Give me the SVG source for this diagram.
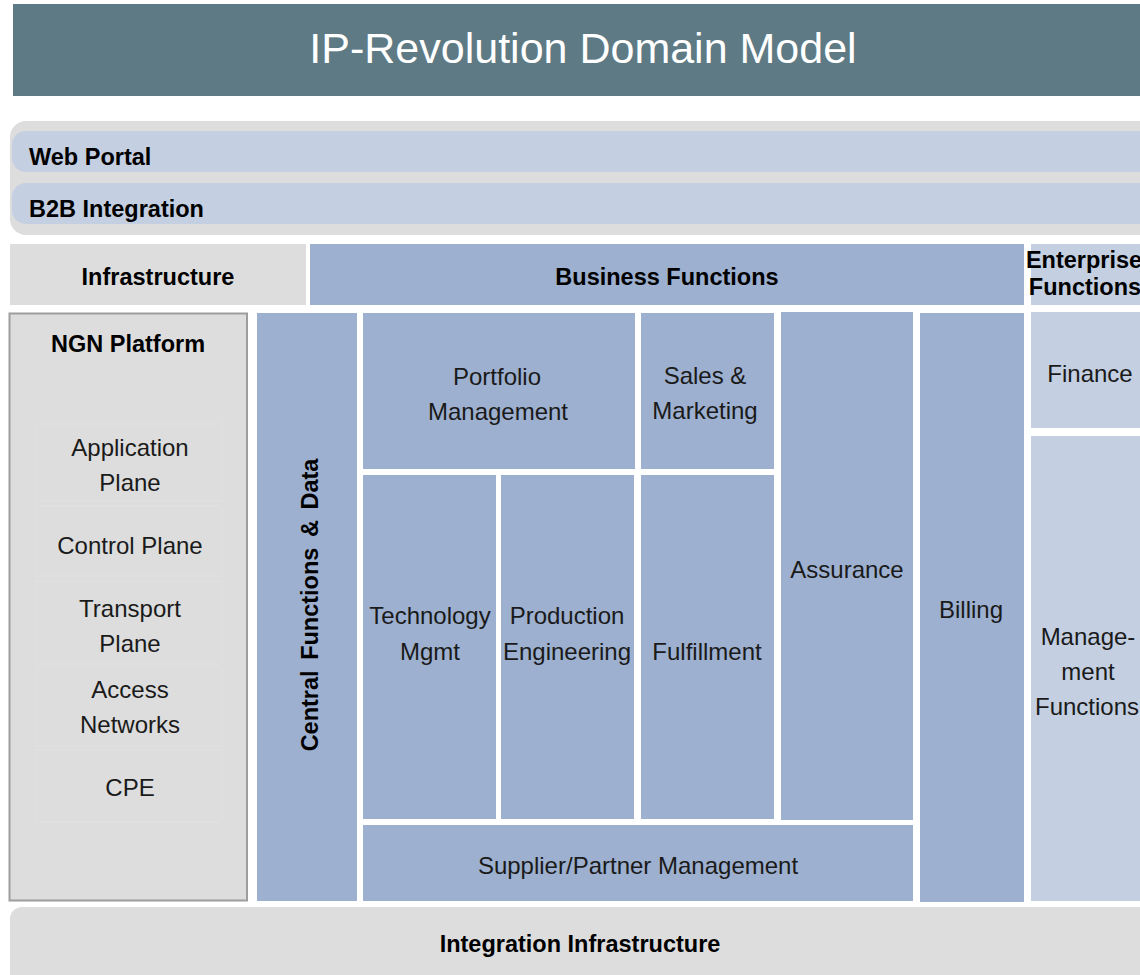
<svg xmlns="http://www.w3.org/2000/svg" width="1140" height="975" viewBox="0 0 1140 975">
<style>
.grey{fill:#dddddd}
.biz{fill:#9db0cf}
.ent{fill:#c4cfe1}
.bold{font-family:"Liberation Sans",Arial,sans-serif;font-weight:bold;font-size:23.5px;fill:#000}
.reg{font-family:"Liberation Sans",Arial,sans-serif;font-size:24px;fill:#1a1a1a}
.mid{text-anchor:middle}
.sub{fill:#dddddd;stroke:#e1e1e1;stroke-width:1}
</style>
<rect width="1140" height="975" fill="#ffffff"/>
<g id="title">
<rect x="13" y="4" width="1140" height="92" fill="#5e7a85"/>
<text x="583" y="63" text-anchor="middle" font-family="Liberation Sans,Arial,sans-serif" font-size="43" fill="#ffffff">IP-Revolution Domain Model</text>
</g>
<g id="portal">
<rect x="10" y="121" width="1160" height="114" rx="16" class="grey"/>
</g>
<g id="web-portal">
<rect x="12" y="131" width="1160" height="41" rx="14" class="ent"/>
<text x="29" y="165" class="bold">Web Portal</text>
</g>
<g id="b2b">
<rect x="12" y="183" width="1160" height="41" rx="14" class="ent"/>
<text x="29" y="217" class="bold">B2B Integration</text>
</g>
<g id="infrastructure-header">
<rect x="10" y="244" width="296" height="61" class="grey"/>
<text x="158" y="285" class="bold mid">Infrastructure</text>
</g>
<g id="business-header">
<rect x="310" y="244" width="714" height="61" class="biz"/>
<text x="667" y="285" class="bold mid">Business Functions</text>
</g>
<g id="enterprise-header">
<rect x="1031" y="244" width="120" height="61" class="ent"/>
<text x="1084" y="268" class="bold mid" font-size="19">Enterprise</text>
<text x="1085" y="295" class="bold mid" font-size="19">Functions</text>
</g>
<g id="ngn-platform">
<rect x="9.5" y="313.5" width="237.5" height="587" fill="#dddddd" stroke="#9d9d9d" stroke-width="2"/>
<text x="128" y="352" class="bold mid">NGN Platform</text>
</g>
<g id="application-plane">
<rect x="36" y="424" width="186" height="77" class="sub"/>
<text x="130" y="456" class="reg mid">Application</text>
<text x="130" y="491" class="reg mid">Plane</text>
</g>
<g id="control-plane">
<rect x="36" y="506" width="186" height="70" class="sub"/>
<text x="130" y="554" class="reg mid">Control Plane</text>
</g>
<g id="transport-plane">
<rect x="36" y="581" width="186" height="83" class="sub"/>
<text x="130" y="617" class="reg mid">Transport</text>
<text x="130" y="652" class="reg mid">Plane</text>
</g>
<g id="access-networks">
<rect x="36" y="667" width="186" height="79" class="sub"/>
<text x="130" y="698" class="reg mid">Access</text>
<text x="130" y="733" class="reg mid">Networks</text>
</g>
<g id="cpe">
<rect x="36" y="750" width="186" height="72" class="sub"/>
<text x="130" y="796" class="reg mid">CPE</text>
</g>
<g id="central-functions">
<rect x="257" y="313" width="100" height="588" class="biz"/>
<text transform="translate(318,605) rotate(-90)" class="bold mid" word-spacing="4">Central Functions &amp; Data</text>
</g>
<g id="portfolio">
<rect x="363" y="313" width="272" height="156" class="biz"/>
<text x="497" y="385" class="reg mid">Portfolio</text>
<text x="498" y="420" class="reg mid">Management</text>
</g>
<g id="sales">
<rect x="641" y="313" width="133" height="156" class="biz"/>
<text x="705" y="384" class="reg mid">Sales &amp;</text>
<text x="705" y="419" class="reg mid">Marketing</text>
</g>
<g id="assurance">
<rect x="781" y="312" width="132" height="508" class="biz"/>
<text x="847" y="578" class="reg mid">Assurance</text>
</g>
<g id="technology">
<rect x="363" y="475" width="133" height="344" class="biz"/>
<text x="430" y="624" class="reg mid">Technology</text>
<text x="430" y="660" class="reg mid">Mgmt</text>
</g>
<g id="production">
<rect x="501" y="475" width="133" height="344" class="biz"/>
<text x="567" y="624" class="reg mid">Production</text>
<text x="567" y="660" class="reg mid">Engineering</text>
</g>
<g id="fulfillment">
<rect x="641" y="475" width="133" height="344" class="biz"/>
<text x="707" y="660" class="reg mid">Fulfillment</text>
</g>
<g id="supplier">
<rect x="363" y="825" width="550" height="76" class="biz"/>
<text x="638" y="874" class="reg mid">Supplier/Partner Management</text>
</g>
<g id="billing">
<rect x="920" y="313" width="104" height="589" class="biz"/>
<text x="971" y="618" class="reg mid">Billing</text>
</g>
<g id="finance">
<rect x="1031" y="312" width="120" height="116" class="ent"/>
<text x="1090" y="382" class="reg mid">Finance</text>
</g>
<g id="management-functions">
<rect x="1031" y="436" width="120" height="465" class="ent"/>
<text x="1088" y="645" class="reg mid">Manage-</text>
<text x="1088" y="680" class="reg mid">ment</text>
<text x="1087" y="715" class="reg mid" font-size="22.5">Functions</text>
</g>
<g id="integration-infrastructure">
<rect x="10" y="907" width="1160" height="90" rx="12" class="grey"/>
<text x="580" y="952" class="bold mid">Integration Infrastructure</text>
</g>
<g id="connectors"></g>
</svg>
